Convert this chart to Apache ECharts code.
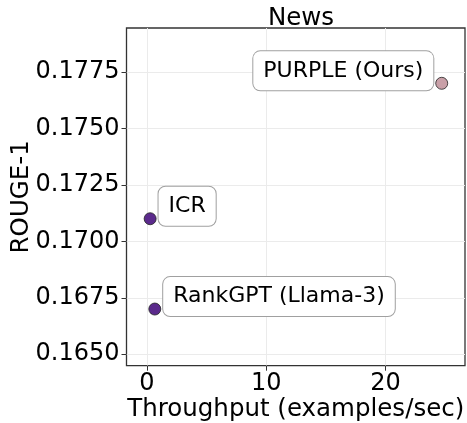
<!DOCTYPE html>
<html>
<head>
<meta charset="utf-8">
<script src="https://cdn.jsdelivr.net/npm/echarts@6/dist/echarts.min.js"></script>
<style>
html, body { margin: 0; padding: 0; background: #fff; }
#chart { width: 467px; height: 423px; }
</style>
</head>
<body>
<div id="chart"></div>
<script>
// data
var methods = ['PURPLE (Ours)', 'ICR', 'RankGPT (Llama-3)'];
var throughput = [24.7, 0.28, 0.67];
var rouge1 = [0.1770, 0.1710, 0.1670];
var pointColors = ['#c9a0a8', '#5b2a8c', '#5b2a8c'];
var labelSide = ['left', 'right', 'right'];
var xTicks = [0, 10, 20];
var yTicks = [0.1650, 0.1675, 0.1700, 0.1725, 0.1750, 0.1775];

var font = 'DejaVu Sans';

var points = methods.map(function (name, i) {
    return {
        name: name,
        value: [throughput[i], rouge1[i]],
        itemStyle: { color: pointColors[i] },
        label: { position: labelSide[i] }
    };
});

var chart = echarts.init(document.getElementById('chart'));
chart.setOption({
    animation: false,
    title: {
        text: 'News',
        left: 296,
        top: 1,
        textAlign: 'center',
        textStyle: { fontFamily: font, fontSize: 24.5, fontWeight: 'normal', color: '#000' }
    },
    grid: {
        left: 126.5, right: 2, top: 28, bottom: 57.3,
        show: true, borderColor: '#333', borderWidth: 1.3,
        outerBoundsMode: 'none'
    },
    xAxis: {
        type: 'value',
        min: -1.7, max: 26.65,
        name: 'Throughput (examples/sec)',
        nameLocation: 'middle',
        nameGap: 31,
        nameMoveOverlap: false,
        nameTextStyle: { fontFamily: font, fontSize: 24.5, color: '#000' },
        axisLine: { show: false, onZero: false },
        axisTick: { show: true, length: 5, customValues: xTicks, lineStyle: { color: '#333' } },
        axisLabel: { customValues: xTicks, fontFamily: font, fontSize: 24, color: '#000', margin: 6 },
        splitLine: { show: true, customValues: xTicks, lineStyle: { color: '#ebebeb', width: 1 } }
    },
    yAxis: {
        type: 'value',
        min: 0.16449, max: 0.17945,
        name: 'ROUGE-1',
        nameLocation: 'middle',
        nameGap: 92.5,
        nameMoveOverlap: false,
        nameTextStyle: { fontFamily: font, fontSize: 24.5, color: '#000' },
        axisLine: { show: false, onZero: false },
        axisTick: { show: true, length: 5, customValues: yTicks, lineStyle: { color: '#333' } },
        axisLabel: {
            customValues: yTicks, fontFamily: font, fontSize: 24, color: '#000', margin: 7,
            formatter: function (v) { return v.toFixed(4); }
        },
        splitLine: { show: true, customValues: yTicks, lineStyle: { color: '#ebebeb', width: 1 } }
    },
    series: [{
        type: 'scatter',
        symbolSize: 12,
        itemStyle: { borderColor: '#222', borderWidth: 0.8, opacity: 1 },
        label: {
            show: true,
            formatter: '{b}',
            distance: 2,
            offset: [0, -12.5],
            fontFamily: font,
            fontSize: 22,
            lineHeight: 25,
            color: '#000',
            backgroundColor: '#fff',
            borderColor: '#a0a0a0',
            borderWidth: 1,
            borderRadius: 7,
            padding: [7, 10, 7, 10]
        },
        data: points
    }]
});
</script>
</body>
</html>
